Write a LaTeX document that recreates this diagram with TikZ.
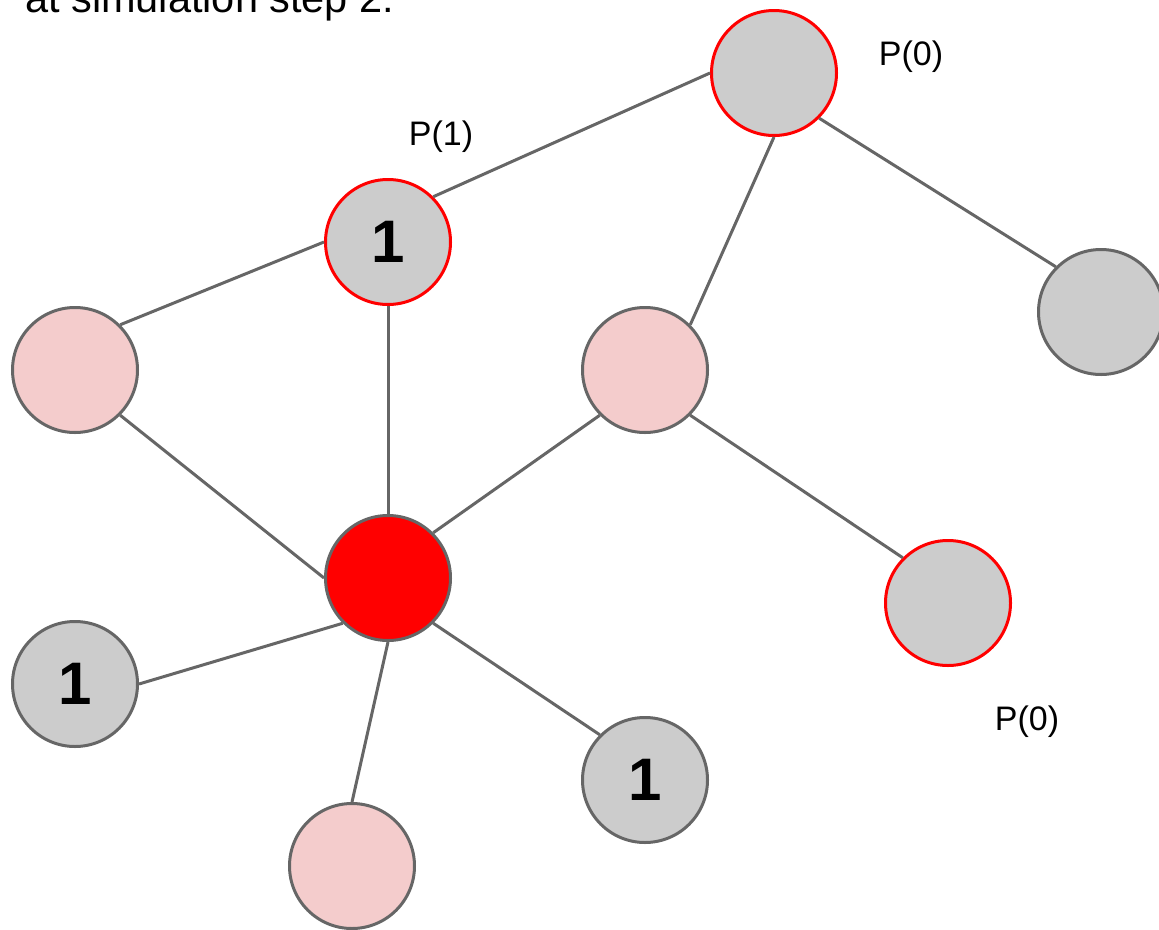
\documentclass[tikz,border=0pt]{standalone}
\usepackage{fontspec}
\setmainfont{Liberation Sans}
\definecolor{edgegray}{HTML}{666666}
\definecolor{nodegray}{HTML}{CCCCCC}
\definecolor{nodepink}{HTML}{F4CCCC}
\definecolor{nodered}{HTML}{FF0000}
\begin{document}
\begin{tikzpicture}[x=1pt,y=-1pt,
  vtx/.style={circle,minimum size=125pt,inner sep=0pt,line width=3pt,draw=edgegray,font=\fontsize{60}{62}\selectfont\bfseries},
  grayv/.style={vtx,fill=nodegray},
  pinkv/.style={vtx,fill=nodepink},
  redv/.style={vtx,fill=nodered},
  hot/.style={draw=nodered},
  lbl/.style={font=\fontsize{34}{36}\selectfont,inner sep=0pt},
  edge/.style={draw=edgegray,line width=3pt}]
\useasboundingbox (0,0) rectangle (1159,929);
\clip (0,0) rectangle (1159,929);
\node[anchor=base west,inner sep=0pt,font=\fontsize{41.5}{44}\selectfont] (title) at (25,12) {at simulation step 2:};
\node[grayv,hot] (p0) at (774,73) {};
\node[grayv,hot] (a) at (388,242) {1};
\node[pinkv] (b) at (75,370) {};
\node[pinkv] (c) at (645,370) {};
\node[grayv] (d) at (1101,312) {};
\node[redv] (e) at (388,578) {};
\node[grayv,hot] (f) at (948,603) {};
\node[grayv] (g) at (75,684) {1};
\node[grayv] (h) at (645,780) {1};
\node[pinkv] (i) at (352,866) {};
\node[lbl] (l1) at (911,57) {P(0)};
\node[lbl] (l2) at (441,137) {P(1)};
\node[lbl] (l3) at (1027,722) {P(0)};
\path[edge] (p0.west) -- (a.north east);
\path[edge] (p0.south) -- (c.north east);
\path[edge] (p0.south east) -- (d.north west);
\path[edge] (a.west) -- (b.north east);
\path[edge] (a.south) -- (e.north);
\path[edge] (b.south east) -- (e.west);
\path[edge] (c.south west) -- (e.north east);
\path[edge] (c.south east) -- (f.north west);
\path[edge] (e.south west) -- (g.east);
\path[edge] (e.south east) -- (h.north west);
\path[edge] (e.south) -- (i.north);
\end{tikzpicture}
\end{document}
